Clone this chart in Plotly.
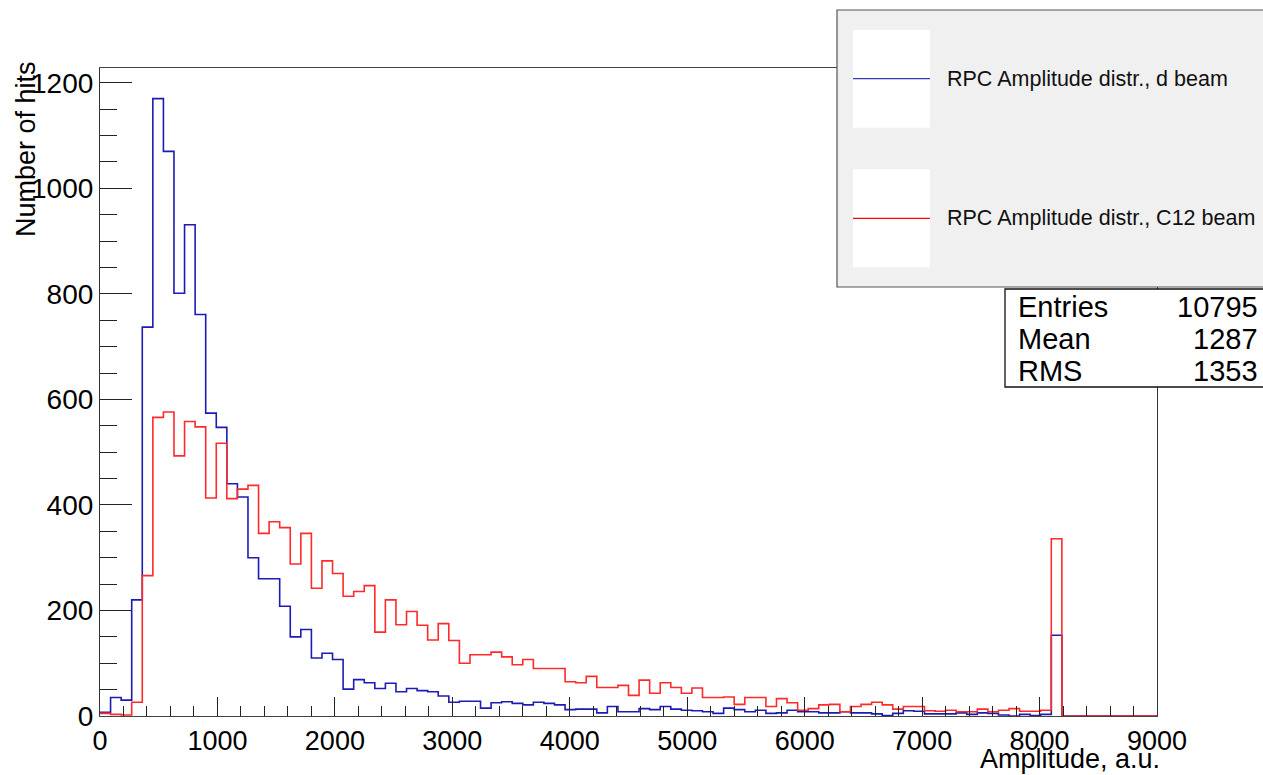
import numpy as np
import plotly.graph_objects as go

# ---- data (100 bins from 0 to 9000) ----
X_MIN, X_MAX, N_BINS = 0, 9000, 100
d_beam = [7, 35, 30, 220, 737, 1170, 1070, 801, 931, 761,
          574, 547, 440, 415, 300, 260, 260, 208, 150, 164,
          110, 119, 107, 51, 69, 63, 52, 62, 46, 52,
          48, 46, 38, 26, 28, 28, 15, 25, 27, 24,
          21, 26, 24, 21, 12, 13, 13, 6, 18, 8,
          8, 14, 12, 18, 13, 11, 10, 8, 5, 15,
          12, 8, 11, 5, 6, 11, 8, 8, 6, 6,
          8, 6, 6, 4, 1, 5, 10, 9, 4, 4,
          4, 6, 3, 6, 5, 2, 0, 3, 1, 3,
          153, 0, 0, 0, 0, 0, 0, 0, 0, 0]
c12_beam = [5, 3, 2, 26, 266, 566, 576, 493, 558, 548,
            413, 517, 412, 430, 437, 346, 368, 357, 288, 346,
            242, 294, 270, 227, 236, 247, 159, 220, 173, 198,
            172, 144, 175, 143, 100, 116, 116, 121, 112, 97,
            107, 90, 90, 90, 65, 63, 75, 54, 54, 58,
            39, 68, 43, 63, 54, 43, 53, 35, 35, 36,
            22, 35, 35, 18, 33, 25, 11, 14, 21, 22,
            8, 18, 22, 26, 21, 13, 18, 18, 10, 9,
            11, 8, 8, 13, 8, 11, 14, 9, 9, 11,
            336, 0, 0, 0, 0, 0, 0, 0, 0, 0]
legend_labels = ["RPC Amplitude distr., d beam", "RPC Amplitude distr., C12 beam"]
stats_names = ["Entries", "Mean", "RMS"]
stats_values = ["10795", "1287", "1353"]
x_title = "Amplitude, a.u."
y_title = "Number of hits"

W, H = 1263, 775
L, R, T, B = 100, 1157, 68, 716  # plot frame in pixels


def px(xp):
    return (xp - L) / (R - L)


def py(yp):
    return (B - yp) / (B - T)


edges = np.linspace(X_MIN, X_MAX, N_BINS + 1)
FONT = "Liberation Sans, Arial, Helvetica, sans-serif"

fig = go.Figure()
for vals, col in [(d_beam, "#1c1cb4"), (c12_beam, "#ff2a2a")]:
    yv = list(vals) + [vals[-1]]
    fig.add_trace(go.Scatter(x=edges, y=yv, mode="lines", line_shape="hv",
                             line=dict(color=col, width=1.6), showlegend=False,
                             hoverinfo="skip"))
# drop to zero at the right end
fig.add_trace(go.Scatter(x=[edges[-1], edges[-1]], y=[c12_beam[-1], 0], mode="lines",
                         line=dict(color="#ff2a2a", width=1.6), showlegend=False))

shapes = []
annotations = []
# legend box
shapes.append(dict(type="rect", xref="paper", yref="paper", x0=px(837), x1=px(1270),
                   y0=py(287), y1=py(10), fillcolor="#f0f0f0",
                   line=dict(color="#555555", width=1.2), layer="above"))
legend_rows = [(30, 127.7, 78.7, "#3a3ab8"), (169.3, 267.3, 218.3, "#ff0000")]
for (ya, yb, yc, col), lab in zip(legend_rows, legend_labels):
    shapes.append(dict(type="rect", xref="paper", yref="paper", x0=px(853), x1=px(930),
                       y0=py(yb), y1=py(ya), fillcolor="white", line=dict(width=0),
                       layer="above"))
    shapes.append(dict(type="line", xref="paper", yref="paper", x0=px(853), x1=px(930),
                       y0=py(yc), y1=py(yc), line=dict(color=col, width=1.3), layer="above"))
    annotations.append(dict(text=lab, xref="paper", yref="paper", x=px(945), y=py(yc),
                            xanchor="left", yanchor="middle", showarrow=False,
                            font=dict(family=FONT, size=21.5, color="#111111")))
# stats box
shapes.append(dict(type="rect", xref="paper", yref="paper", x0=px(1005), x1=px(1270),
                   y0=py(387), y1=py(289), fillcolor="white",
                   line=dict(color="#111111", width=1.3), layer="above"))
for i, (n, v) in enumerate(zip(stats_names, stats_values)):
    yc = 307 + i * 32
    annotations.append(dict(text=n, xref="paper", yref="paper", x=px(1016), y=py(yc),
                            xanchor="left", yanchor="middle", showarrow=False,
                            font=dict(family=FONT, size=29, color="#000000")))
    annotations.append(dict(text=v, xref="paper", yref="paper", x=px(1260), y=py(yc),
                            xanchor="right", yanchor="middle", showarrow=False,
                            font=dict(family=FONT, size=29, color="#000000")))
# axis titles
annotations.append(dict(text=y_title, xref="paper", yref="paper", x=px(26), y=py(149),
                        xanchor="center", yanchor="middle", textangle=-90, showarrow=False,
                        font=dict(family=FONT, size=27, color="#000000")))
annotations.append(dict(text=x_title, xref="paper", yref="paper", x=px(1162), y=py(759),
                        xanchor="right", yanchor="middle", showarrow=False,
                        font=dict(family=FONT, size=27, color="#000000")))

fig.update_layout(
    width=W, height=H, autosize=False,
    margin=dict(l=L, r=W - R, t=T, b=H - B, pad=0),
    paper_bgcolor="white", plot_bgcolor="white",
    shapes=shapes, annotations=annotations,
    xaxis=dict(range=[X_MIN, X_MAX], dtick=1000, tick0=0, ticks="inside", ticklen=19,
               tickwidth=1, tickcolor="#222222", showline=True, linecolor="#444444",
               linewidth=1.2, mirror=True, showgrid=False, zeroline=False,
               tickfont=dict(family=FONT, size=27, color="#000000"),
               minor=dict(ticks="inside", ticklen=10, dtick=200, tickcolor="#222222",
                          showgrid=False)),
    yaxis=dict(range=[0, 1228], dtick=200, tick0=0, ticks="inside", ticklen=32,
               tickwidth=1, tickcolor="#222222", showline=True, linecolor="#333333",
               linewidth=1.2, mirror=True, showgrid=False, zeroline=False,
               tickfont=dict(family=FONT, size=28, color="#000000"),
               minor=dict(ticks="inside", ticklen=17, dtick=50, tickcolor="#222222",
                          showgrid=False)),
)

fig.write_html("out.html")
